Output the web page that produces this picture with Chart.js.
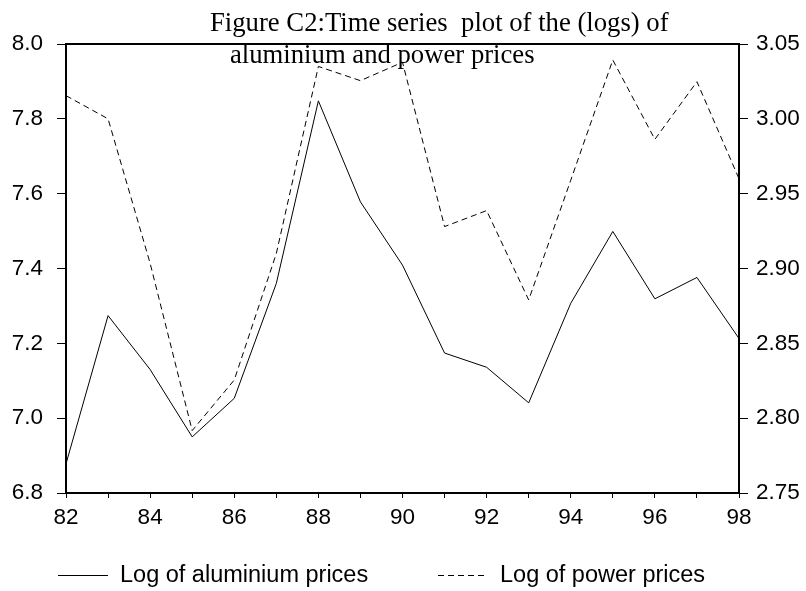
<!DOCTYPE html>
<html>
<head>
<meta charset="utf-8">
<script src="https://cdn.jsdelivr.net/npm/chart.js@4.4.1/dist/chart.umd.min.js"></script>
<style>
    body { margin: 0; background: #fff; }
    #wrap { width: 806px; height: 591px; }
</style>
</head>
<body>
<div id="wrap"><canvas id="logChart" width="806" height="591"></canvas></div>
<script>
const years = ['82', '83', '84', '85', '86', '87', '88', '89', '90', '91', '92', '93', '94', '95', '96', '97', '98'];
const aluminium = [6.878, 7.274, 7.130, 6.950, 7.053, 7.360, 7.848, 7.578, 7.409, 7.174, 7.136, 7.041, 7.307, 7.499, 7.319, 7.376, 7.213];
const power = [3.0155, 3.000, 2.9035, 2.7917, 2.8255, 2.910, 3.035, 3.0255, 3.0378, 2.928, 2.9387, 2.879, 2.959, 3.0393, 2.9863, 3.0248, 2.960];
const titleLines = ['Figure C2:Time series  plot of the (logs) of', 'aluminium and power prices'];
const legendNames = ['Log of aluminium prices', 'Log of power prices'];

const sansFont = '"Liberation Sans", Arial, sans-serif';
const serifFont = '"Liberation Serif", "Times New Roman", serif';

// title, top frame line and legend are drawn by hand
const extras = {
    id: 'extras',
    afterDraw(chart) {
        const ctx = chart.ctx;
        const area = chart.chartArea;
        ctx.save();

        ctx.strokeStyle = '#000';
        ctx.lineWidth = 2;
        ctx.beginPath();
        ctx.moveTo(area.left - 1, area.top);
        ctx.lineTo(area.right + 1, area.top);
        ctx.stroke();

        ctx.fillStyle = '#000';
        ctx.font = '26.7px ' + serifFont;
        ctx.textBaseline = 'alphabetic';
        ctx.textAlign = 'left';
        ctx.fillText(titleLines[0], 210, 31);
        ctx.fillText(titleLines[1], 230, 63);

        const legendX = [58, 438];
        ctx.font = '23.5px ' + sansFont;
        ctx.textBaseline = 'middle';
        chart.data.datasets.forEach((ds, i) => {
            ctx.lineWidth = 1;
            ctx.setLineDash(ds.borderDash || []);
            ctx.beginPath();
            ctx.moveTo(legendX[i], 575.5);
            ctx.lineTo(legendX[i] + 50, 575.5);
            ctx.stroke();
            ctx.setLineDash([]);
            ctx.fillText(legendNames[i], legendX[i] + 62, 576);
        });
        ctx.restore();
    }
};

const ctx = document.getElementById('logChart').getContext('2d');
const logChart = new Chart(ctx, {
    type: 'line',
    data: {
        labels: years,
        datasets: [{
            label: legendNames[0],
            data: aluminium,
            yAxisID: 'y',
            borderColor: '#000',
            borderWidth: 1,
            pointRadius: 0,
            tension: 0
        }, {
            label: legendNames[1],
            data: power,
            yAxisID: 'y1',
            borderColor: '#000',
            borderWidth: 1,
            borderDash: [6, 4],
            pointRadius: 0,
            tension: 0
        }]
    },
    options: {
        responsive: false,
        devicePixelRatio: 1,
        animation: false,
        layout: { padding: { top: 44, left: 0, right: 0, bottom: 0 } },
        scales: {
            x: {
                type: 'category',
                offset: false,
                grid: { drawOnChartArea: false, color: '#000', tickLength: 5, lineWidth: 1 },
                border: { display: true, color: '#000', width: 2 },
                ticks: {
                    autoSkip: false,
                    maxRotation: 0,
                    padding: 6,
                    color: '#000',
                    font: { family: sansFont, size: 22.5 },
                    callback: function(value, index) {
                        return index % 2 === 0 ? this.getLabelForValue(value) : '';
                    }
                },
                afterFit: scale => { scale.height = 98; }
            },
            y: {
                position: 'left',
                min: 6.8,
                max: 8.0,
                grid: { drawOnChartArea: false, color: '#000', tickLength: 9, lineWidth: 1 },
                border: { display: true, color: '#000', width: 2 },
                ticks: {
                    stepSize: 0.2,
                    padding: 14,
                    color: '#000',
                    font: { family: sansFont, size: 22.5 },
                    callback: v => v.toFixed(1)
                },
                afterFit: scale => { scale.width = 66; }
            },
            y1: {
                position: 'right',
                min: 2.75,
                max: 3.05,
                grid: { drawOnChartArea: false, color: '#000', tickLength: 9, lineWidth: 1 },
                border: { display: true, color: '#000', width: 2 },
                ticks: {
                    stepSize: 0.05,
                    padding: 8,
                    color: '#000',
                    font: { family: sansFont, size: 22.5 },
                    callback: v => v.toFixed(2)
                },
                afterFit: scale => { scale.width = 67; }
            }
        },
        plugins: {
            legend: { display: false },
            title: { display: false },
            tooltip: { enabled: false }
        }
    },
    plugins: [extras]
});
</script>
</body>
</html>
